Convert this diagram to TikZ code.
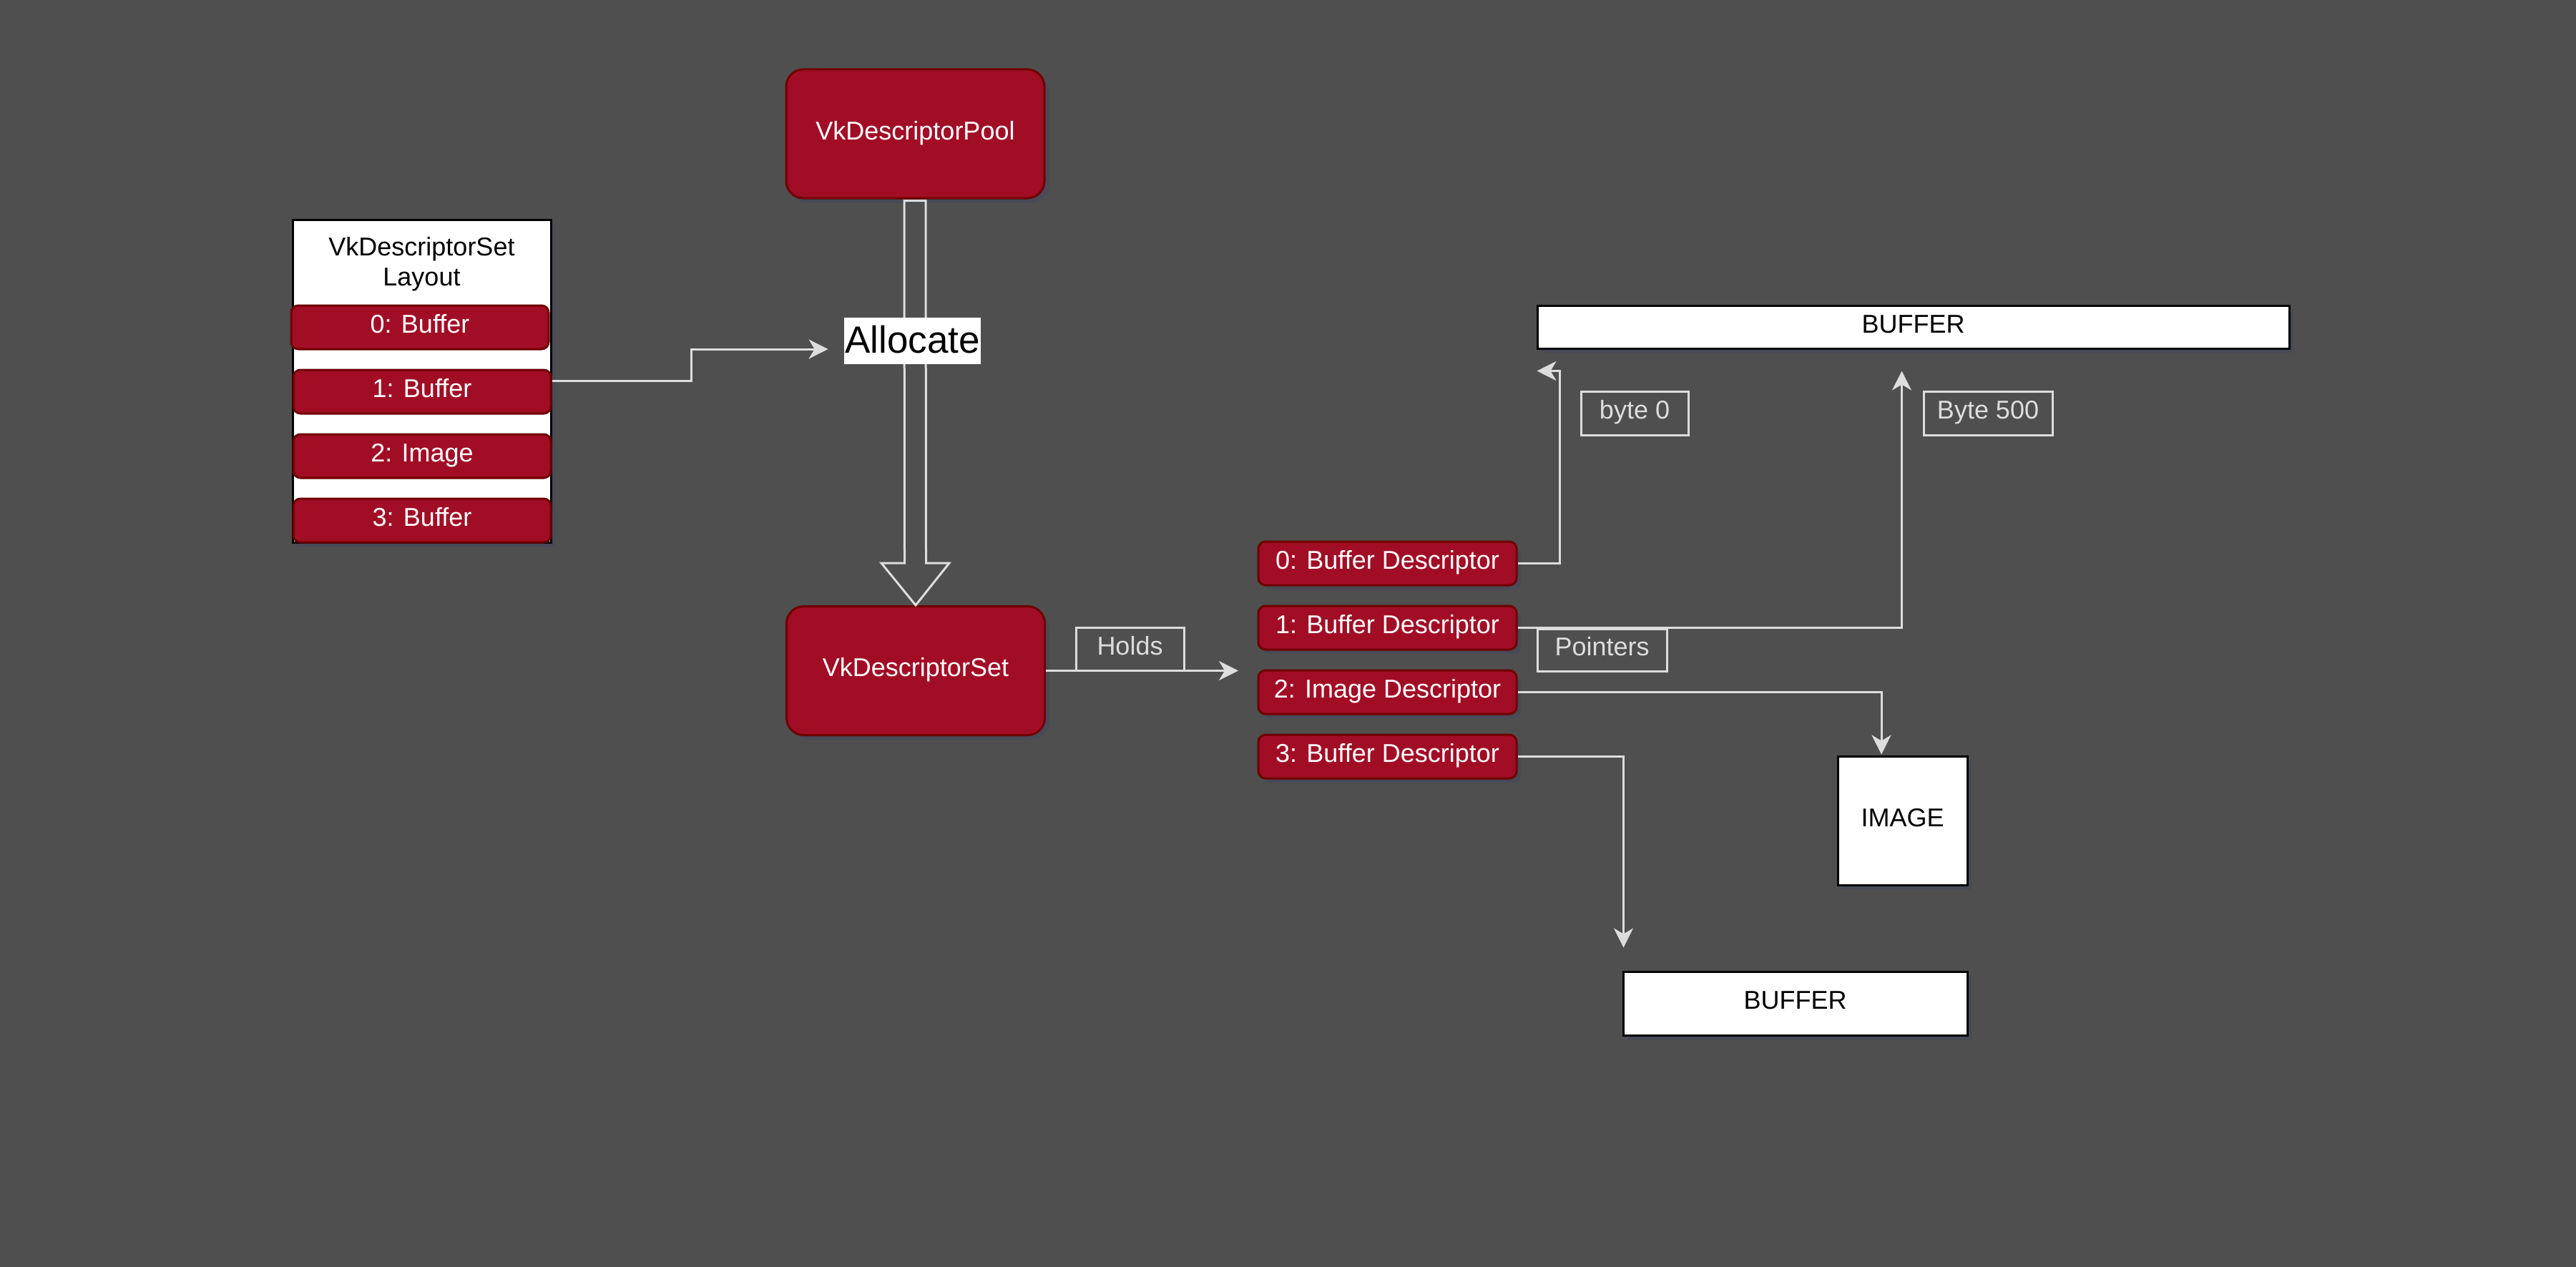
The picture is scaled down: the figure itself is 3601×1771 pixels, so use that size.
\documentclass[tikz,border=0pt]{standalone}
\usepackage{fontspec}
\setmainfont{Liberation Sans}
\usetikzlibrary{calc,arrows.meta,shadows}
\definecolor{bg}{HTML}{4F4F4F}
\definecolor{vkred}{HTML}{A20D26}
\definecolor{vkredline}{HTML}{6F0000}
\definecolor{lineg}{HTML}{DDDDDD}
\definecolor{shad}{HTML}{484A57}
\begin{document}
\begin{tikzpicture}[x=0.5pt,y=-0.5pt,
  txt/.style={font=\fontsize{18}{21}\selectfont},
  ctr/.style={text height=13pt,text depth=4.7pt},
  shd/.style={drop shadow={shadow xshift=3pt,shadow yshift=-3pt,fill=shad,opacity=1}},
  redbox/.style={txt,ctr,draw=vkredline,fill=vkred,text=white,line width=1.5pt,inner sep=0pt,rounded corners=5pt},
  itembox/.style={redbox,minimum width=180pt,minimum height=30.5pt},
  descbox/.style={redbox,shd,minimum width=180.5pt,minimum height=30.5pt},
  bigred/.style={redbox,shd,rounded corners=12pt,minimum width=180.5pt,minimum height=90pt},
  wbox/.style={txt,ctr,shd,draw=black,fill=white,text=black,line width=1.5pt,inner sep=0pt},
  lbl/.style={txt,ctr,draw=lineg,text=lineg,line width=1.5pt,inner sep=0pt},
  conn/.style={draw=lineg,line width=1.5pt,-{Stealth[length=13.5pt,width=13.5pt,inset=4pt]}},
]
\fill[bg] (0,0) rectangle (3601,1771);
\useasboundingbox (0,0) rectangle (3601,1771);

% Layout
\node[txt,shd,draw=black,fill=white,line width=1.5pt,inner sep=0pt,minimum width=180.5pt,minimum height=225.5pt] (layout) at (589.5,532.5) {};
\node[txt,text=black,align=center] (ltitle) at (589.5,369) {VkDescriptorSet\\Layout};
\node[itembox] (b0) at (587,457.5) {0: Buffer};
\node[itembox] (b1) at (590,547.5) {1: Buffer};
\node[itembox] (b2) at (590,637.5) {2: Image};
\node[itembox] (b3) at (590,727.5) {3: Buffer};

% Pool and set
\node[bigred] (pool) at (1279.5,187) {VkDescriptorPool};
\node[bigred] (set) at (1280,937.5) {VkDescriptorSet};

% Block arrow
\draw[lineg,line width=1.5pt,line join=miter]
  ($(pool.south)+(-15.5,2)$) -- ($(set.north)+(-15.5,-59)$) -- ($(set.north)+(-48,-59)$)
  -- (set.north) -- ($(set.north)+(47,-59)$) -- ($(set.north)+(14.5,-59)$)
  -- ($(pool.south)+(14.5,2)$) -- cycle;

\node[fill=white,text=black,inner sep=0pt,minimum width=95.5pt,minimum height=32.5pt,text height=19pt,text depth=2.3pt,font=\fontsize{26.5}{30}\selectfont] (alloc) at (1275.5,476.5) {Allocate};

% Descriptors
\node[descbox] (d0) at (1939.5,787.5) {0: Buffer Descriptor};
\node[descbox] (d1) at (1939.5,877.5) {1: Buffer Descriptor};
\node[descbox] (d2) at (1939.5,967.5) {2: Image Descriptor};
\node[descbox] (d3) at (1939.5,1057.5) {3: Buffer Descriptor};

% Resources
\node[wbox,minimum width=525.5pt,minimum height=30pt] (buftop) at (2674.5,457) {BUFFER};
\node[wbox,minimum width=90.5pt,minimum height=90pt] (img) at (2659.5,1147) {IMAGE};
\node[wbox,minimum width=240.5pt,minimum height=44.5pt] (bufbot) at (2509.5,1402.5) {BUFFER};

% Labels
\node[lbl,minimum width=75.5pt,minimum height=30pt] (holds) at (1579.5,907) {Holds};
\node[lbl,minimum width=90.5pt,minimum height=29.5pt] (ptrs) at (2239.5,908.5) {Pointers};
\node[lbl,minimum width=75pt,minimum height=30.5pt] (byte0) at (2285,577.5) {byte 0};
\node[lbl,minimum width=90pt,minimum height=30.5pt] (byte500) at (2779,577.5) {Byte 500};

% Connectors
\coordinate (a1) at ($(b1.east)+(0,-15.5)$);
\coordinate (a2) at ($(alloc.west)+(-22,11.5)$);
\draw[conn] (a1) -- ++(195,0) |- (a2);

\coordinate (hend) at ($(set.east)+(269,0)$);
\draw[conn] (set.east) -- (hend);

\coordinate (t0) at ($(buftop.south west)+(1,30)$);
\draw[conn] (d0.east) -- ++(59,0) |- (t0);

\coordinate (t1) at ($(buftop.south west)+(511,30)$);
\draw[conn] (d1.east) -| (t1);

\coordinate (t2) at ($(img.north)+(-29.5,-1)$);
\draw[conn] (d2.east) -| (t2);

\coordinate (t3) at ($(bufbot.north west)+(2,-32)$);
\draw[conn] (d3.east) -| (t3);
\end{tikzpicture}
\end{document}
